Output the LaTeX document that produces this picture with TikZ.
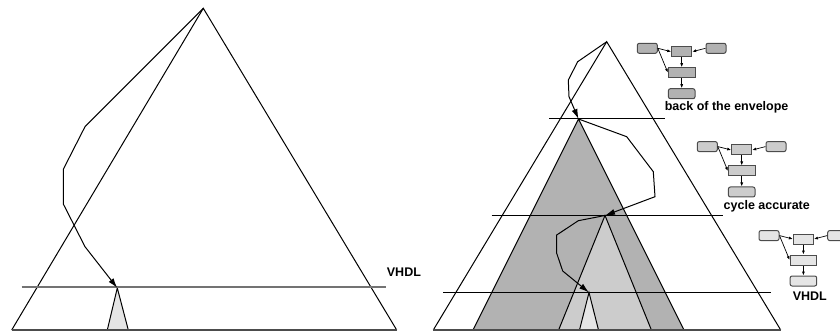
\documentclass[tikz,border=0pt]{standalone}
\usepackage{fontspec}
\setmainfont{Liberation Sans}
\usepackage{tikz}
\usetikzlibrary{arrows.meta,positioning}
\definecolor{shadeA}{gray}{0.70}
\definecolor{shadeB}{gray}{0.80}
\definecolor{shadeC}{gray}{0.90}

\begin{document}
\begin{tikzpicture}[
    x=1pt, y=-1pt,
    wedge/.style={draw=black, line width=1pt},
    level/.style={draw=black, line width=1pt},
    baseline/.style={draw=black!70, line width=1.2pt},
    flow/.style={-{Latex[length=10pt,width=6pt]}, line width=1pt},
    blk/.style={rectangle, draw=black!70, line width=1pt, minimum width=20pt, minimum height=10pt, inner sep=0pt},
    rblk/.style={blk, rounded corners=2pt},
    wblk/.style={blk, minimum width=26.6pt},
    link/.style={-{Latex[length=4pt,width=3pt]}, line width=0.7pt},
    lbl/.style={font=\bfseries\fontsize{12.5}{14}\selectfont, inner sep=0pt, anchor=north west}
]
\useasboundingbox (0,0) rectangle (840,331);

% Left pyramid
\coordinate (lTop) at (203.3,8.3);
\coordinate (lBL) at (11.7,330);
\coordinate (lBR) at (396.7,330);
\coordinate (lVTop) at (117.3,288);
\draw[wedge, fill=shadeC] (lVTop) -- (107.3,330) -- (128.3,330) -- cycle;
\draw[wedge] (lBL) -- (lTop) -- (lBR);
\draw[baseline] (lBL) -- (lBR);
\draw[black!55, line width=1.7pt] (21.7,287.3) -- (386,287.3);
\node[lbl, anchor=west] (lVhdl) at (386.7,272.5) {VHDL};
\draw[flow] (lTop) -- (85,126.7) -- (63.3,169.3) -- (63.3,204) -- (85,246.7) -- (lVTop);

% Right pyramid
\coordinate (rTop) at (606.7,41.7);
\coordinate (rBL) at (433.3,330);
\coordinate (rBR) at (780.7,330);
\coordinate (bkTop) at (578.5,119);
\coordinate (caTop) at (605,215.5);
\coordinate (vhTop) at (589,292.5);
\draw[wedge, fill=shadeA] (bkTop) -- (473,330) -- (684,330) -- cycle;
\draw[wedge, fill=shadeB] (caTop) -- (558.6,330) -- (651.4,330) -- cycle;
\draw[wedge, fill=shadeC] (vhTop) -- (579.5,330) -- (598.5,330) -- cycle;
\draw[wedge] (rBL) -- (rTop) -- (rBR);
\draw[baseline] (rBL) -- (rBR);
\draw[level] (549.3,118.7) -- (665,118.7);
\draw[level] (491.7,215.3) -- (722.7,215.3);
\draw[level] (443.3,292.3) -- (771,292.3);

% Refinement path
\draw[flow] (rTop) -- (577.7,61.7) -- (568.3,80) -- (569,96.7) -- (bkTop);
\draw[flow] (bkTop) -- (626.7,136.7) -- (653.3,171.7) -- (655,196.7) -- (caTop);
\draw[flow] (caTop) -- (578.3,220.7) -- (556.7,235) -- (556.7,253.3) -- (562.7,271) -- (vhTop);

% Back of the envelope model
\node[blk, fill=shadeA] (bkC) at (681.7,51.7) {};
\node[rblk, fill=shadeA, left=13.4pt of bkC, yshift=3.4pt] (bkL) {};
\node[rblk, fill=shadeA, right=13.3pt of bkC, yshift=3.4pt] (bkR) {};
\node[wblk, fill=shadeA, below=10pt of bkC] (bkM) {};
\node[wblk, rounded corners=2pt, fill=shadeA, below=10pt of bkM] (bkB) {};
\node[lbl] (bkLbl) at ([xshift=-3.3pt,yshift=-2.5pt]bkB.south west) {back of the envelope};
\draw[link] (bkL.east) -- (bkC.west);
\draw[link] (bkR.west) -- (bkC.east);
\draw[link] (bkC) -- (bkM);
\draw[link] (bkL.east) -- (bkM.west);
\draw[link] (bkM) -- (bkB);

% Cycle accurate model
\node[blk, fill=shadeB] (caC) at (741.7,150) {};
\node[rblk, fill=shadeB, left=13.4pt of caC, yshift=3.4pt] (caL) {};
\node[rblk, fill=shadeB, right=13.3pt of caC, yshift=3.4pt] (caR) {};
\node[wblk, fill=shadeB, below=10pt of caC] (caM) {};
\node[wblk, rounded corners=2pt, fill=shadeB, below=10pt of caM] (caB) {};
\node[lbl] (caLbl) at ([xshift=-4.4pt,yshift=-2.7pt]caB.south west) {cycle accurate};
\draw[link] (caL.east) -- (caC.west);
\draw[link] (caR.west) -- (caC.east);
\draw[link] (caC) -- (caM);
\draw[link] (caL.east) -- (caM.west);
\draw[link] (caM) -- (caB);

% VHDL model
\node[blk, fill=shadeC] (vhC) at (803.4,239) {};
\node[rblk, fill=shadeC, left=13.4pt of vhC, yshift=3.4pt] (vhL) {};
\node[rblk, fill=shadeC, right=13.3pt of vhC, yshift=3.4pt] (vhR) {};
\node[wblk, fill=shadeC, below=10pt of vhC] (vhM) {};
\node[wblk, rounded corners=2pt, fill=shadeC, below=10pt of vhM] (vhB) {};
\node[lbl] (vhLbl) at ([xshift=3pt,yshift=-5pt]vhB.south west) {VHDL};
\draw[link] (vhL.east) -- (vhC.west);
\draw[link] (vhR.west) -- (vhC.east);
\draw[link] (vhC) -- (vhM);
\draw[link] (vhL.east) -- (vhM.west);
\draw[link] (vhM) -- (vhB);

\end{tikzpicture}
\end{document}
